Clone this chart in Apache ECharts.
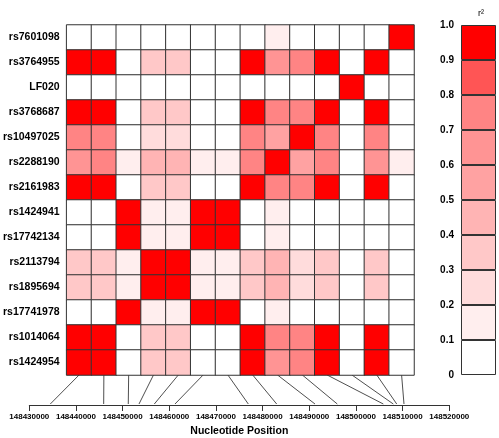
<!DOCTYPE html>
<html><head><meta charset="utf-8">
<script src="https://cdn.jsdelivr.net/npm/echarts@6/dist/echarts.min.js"></script>
<style>html,body{margin:0;padding:0;background:#fff}#c{width:499px;height:438px}</style>
</head><body><div id="c"></div>
<script>
// ---- data ----
const rowLabels = ['rs7601098','rs3764955','LF020','rs3768687','rs10497025','rs2288190','rs2161983',
  'rs1424941','rs17742134','rs2113794','rs1895694','rs17741978','rs1014064','rs1424954'];
// nucleotide position of each column's SNP (columns ordered by position)
const snpPositions = [148434500,148445940,148451210,148453510,148456790,148461220,148476930,
  148483010,148491220,148496000,148505860,148508000,148508730,148510290];
// r^2 per row, one value per column
const r_rs7601098  = [0,0,0,0,0,0,0,0,0.15,0,0,0,0,0.95];
const r_rs3764955  = [0.95,0.95,0,0.35,0.35,0,0,0.95,0.65,0.75,0.95,0,0.95,0];
const r_LF020      = [0,0,0,0,0,0,0,0,0,0,0,0.95,0,0];
const r_rs3768687  = [0.95,0.95,0,0.35,0.35,0,0,0.95,0.75,0.75,0.95,0,0.95,0];
const r_rs10497025 = [0.75,0.75,0,0.25,0.25,0,0,0.75,0.55,0.95,0.75,0,0.75,0];
const r_rs2288190  = [0.65,0.75,0.15,0.45,0.45,0.15,0.15,0.75,0.95,0.55,0.75,0,0.65,0.15];
const r_rs2161983  = [0.95,0.95,0,0.35,0.35,0,0,0.95,0.75,0.75,0.95,0,0.95,0];
const r_rs1424941  = [0,0,0.95,0.15,0.15,0.95,0.95,0,0.15,0,0,0,0,0];
const r_rs17742134 = [0,0,0.95,0.15,0.15,0.95,0.95,0,0.15,0,0,0,0,0];
const r_rs2113794  = [0.35,0.35,0.15,0.95,0.95,0.15,0.15,0.35,0.45,0.25,0.35,0,0.35,0];
const r_rs1895694  = [0.35,0.35,0.15,0.95,0.95,0.15,0.15,0.35,0.45,0.25,0.35,0,0.35,0];
const r_rs17741978 = [0,0,0.95,0.15,0.15,0.95,0.95,0,0.15,0,0,0,0,0];
const r_rs1014064  = [0.95,0.95,0,0.35,0.35,0,0,0.95,0.75,0.75,0.95,0,0.95,0];
const r_rs1424954  = [0.95,0.95,0,0.35,0.35,0,0,0.95,0.65,0.75,0.95,0,0.95,0];
const rowValues = [r_rs7601098,r_rs3764955,r_LF020,r_rs3768687,r_rs10497025,r_rs2288190,r_rs2161983,
  r_rs1424941,r_rs17742134,r_rs2113794,r_rs1895694,r_rs17741978,r_rs1014064,r_rs1424954];
// colour scale bins (lower edge) and colours
const binEdges  = [0,0.1,0.2,0.3,0.4,0.5,0.6,0.7,0.8,0.9];
const binColors = ['#ffffff','#ffeeee','#ffdcdc','#ffc8c8','#ffb4b4','#ffa2a2','#ff9494','#ff8484','#ff5555','#ff0000'];
const binWidth = 0.1;
const posMin = 148430000, posMax = 148520000, posStep = 10000;

// ---- build ----
const FONT = '"Liberation Sans", Arial, Helvetica, sans-serif';
const heatData = [];
rowValues.forEach((row, r) => row.forEach((v, c) => heatData.push([c, r, v])));

const chart = echarts.init(document.getElementById('c'), null, {renderer: 'canvas'});
const cbSeries = binEdges.map((e, i) => ({
  type: 'bar', xAxisIndex: 1, yAxisIndex: 1, stack: 'cb', barWidth: '100%',
  data: [binWidth], silent: true,
  itemStyle: {color: binColors[i], borderColor: '#333', borderWidth: 1}
}));

chart.setOption({
  animation: false,
  backgroundColor: '#fff',
  title: {text: 'r²', left: 473, top: 4, textStyle: {fontFamily: FONT, fontSize: 9, fontWeight: 'normal', color: '#000'}},
  grid: [
    {left: 64, top: 25, width: 350, height: 350},
    {left: 461, top: 25, width: 35, height: 350},
    {left: 29.3, top: 380, width: 420, height: 25}
  ],
  xAxis: [
    {type: 'category', gridIndex: 0, data: snpPositions.map(String), axisLine: {show: false}, axisTick: {show: false}, axisLabel: {show: false}, splitLine: {show: false}},
    {type: 'category', gridIndex: 1, data: ['r2'], axisLine: {show: false}, axisTick: {show: false}, axisLabel: {show: false}},
    {type: 'value', gridIndex: 2, min: posMin, max: posMax, interval: posStep, position: 'bottom',
      axisLine: {show: true, lineStyle: {color: '#333', width: 1}},
      axisTick: {show: true, length: 6, lineStyle: {color: '#333'}},
      axisLabel: {fontFamily: FONT, fontSize: 8, fontWeight: 'bold', color: '#000', margin: 8, formatter: v => String(v)},
      splitLine: {show: false},
      name: 'Nucleotide Position', nameLocation: 'middle', nameGap: 21,
      nameTextStyle: {fontFamily: FONT, fontSize: 10.5, fontWeight: 'bold', color: '#000'}}
  ],
  yAxis: [
    {type: 'category', gridIndex: 0, data: rowLabels, inverse: true, axisLine: {show: false}, axisTick: {show: false},
      axisLabel: {fontFamily: FONT, fontSize: 10.5, fontWeight: 'bold', color: '#000', margin: 7}, splitLine: {show: false}},
    {type: 'value', gridIndex: 1, min: 0, max: 1, interval: 0.1, axisLine: {show: false}, axisTick: {show: false}, splitLine: {show: false},
      axisLabel: {fontFamily: FONT, fontSize: 10, fontWeight: 'bold', color: '#000', margin: 7, formatter: v => v === 0 ? '0' : v.toFixed(1)}},
    {type: 'value', gridIndex: 2, show: false}
  ],
  visualMap: {
    type: 'piecewise', show: false, seriesIndex: 0, dimension: 2,
    pieces: binEdges.map((e, i) => ({gte: e, lt: e + binWidth + (i === binEdges.length - 1 ? 0.01 : 0), color: binColors[i]}))
  },
  series: [
    {type: 'heatmap', xAxisIndex: 0, yAxisIndex: 0, data: heatData, silent: true,
      itemStyle: {borderColor: '#333', borderWidth: 1}}
  ].concat(cbSeries)
});

// connector lines from each column to its genomic position
const lines = snpPositions.map((p, i) => {
  const xTop = chart.convertToPixel({xAxisIndex: 0}, i);
  const xBot = chart.convertToPixel({xAxisIndex: 2}, p);
  const yTop = chart.convertToPixel({yAxisIndex: 2}, 0) - 30;
  const yBot = chart.convertToPixel({yAxisIndex: 2}, 0) - 1;
  return {type: 'line', silent: true, shape: {x1: xTop, y1: yTop, x2: xBot, y2: yBot}, style: {stroke: '#222', lineWidth: 0.8}};
});
chart.setOption({graphic: lines});
</script></body></html>
